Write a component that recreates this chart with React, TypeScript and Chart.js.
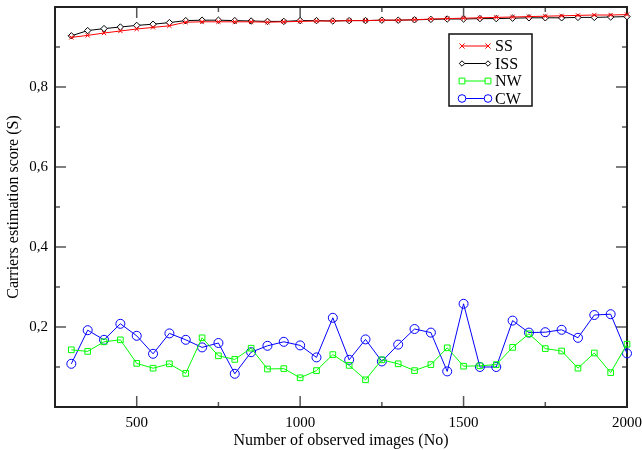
import { useEffect, useRef } from 'react';
import { Chart, registerables } from 'chart.js';

Chart.register(...registerables);

const xValues = [300, 350, 400, 450, 500, 550, 600, 650, 700, 750, 800, 850, 900, 950, 1000, 1050, 1100, 1150, 1200, 1250, 1300, 1350, 1400, 1450, 1500, 1550, 1600, 1650, 1700, 1750, 1800, 1850, 1900, 1950, 2000];

const ssValues = [0.924, 0.929, 0.935, 0.940, 0.945, 0.949, 0.953, 0.962, 0.963, 0.963, 0.963, 0.963, 0.962, 0.963, 0.964, 0.965, 0.965, 0.966, 0.966, 0.967, 0.967, 0.968, 0.970, 0.971, 0.972, 0.973, 0.974, 0.975, 0.976, 0.977, 0.978, 0.979, 0.980, 0.980, 0.981];

const issValues = [0.928, 0.941, 0.946, 0.950, 0.954, 0.957, 0.961, 0.966, 0.967, 0.967, 0.966, 0.965, 0.964, 0.964, 0.966, 0.966, 0.965, 0.966, 0.966, 0.967, 0.967, 0.968, 0.969, 0.970, 0.970, 0.971, 0.971, 0.972, 0.973, 0.973, 0.973, 0.974, 0.974, 0.975, 0.976];

const nwValues = [0.143, 0.139, 0.163, 0.168, 0.109, 0.097, 0.108, 0.084, 0.173, 0.128, 0.119, 0.147, 0.095, 0.096, 0.073, 0.091, 0.131, 0.104, 0.068, 0.118, 0.108, 0.091, 0.106, 0.148, 0.102, 0.103, 0.106, 0.149, 0.183, 0.146, 0.140, 0.097, 0.135, 0.086, 0.157];

const cwValues = [0.108, 0.192, 0.168, 0.208, 0.178, 0.133, 0.184, 0.168, 0.149, 0.160, 0.083, 0.137, 0.153, 0.163, 0.154, 0.124, 0.223, 0.118, 0.169, 0.114, 0.156, 0.195, 0.186, 0.089, 0.258, 0.100, 0.100, 0.216, 0.186, 0.187, 0.193, 0.173, 0.230, 0.232, 0.134];

const seriesNames = ['SS', 'ISS', 'NW', 'CW'];
const xMajorTicks = [500, 1000, 1500, 2000];
const xMinorTicks = [250, 750, 1250, 1750];
const yMajorTicks = [0.2, 0.4, 0.6, 0.8, 1.0];
const yMinorTicks = [0.1, 0.3, 0.5, 0.7, 0.9];
const yTickLabels = ['0,2', '0,4', '0,6', '0,8'];
const xTitle = 'Number of observed images (No)';
const yTitle = 'Carriers estimation score (S)';

const FONT = "'Liberation Serif', 'Times New Roman', serif";

const colors = ['#ff0000', '#000000', '#00ff00', '#0000ff'];
const markers = ['crossRot', 'rectRot', 'rect', 'circle'];
const radii = [3, 3.2, 4, 4.5];

function drawMarker(ctx: CanvasRenderingContext2D, style: string, x: number, y: number, r: number, color: string) {
  ctx.save();
  ctx.strokeStyle = color;
  ctx.fillStyle = '#ffffff';
  ctx.lineWidth = 1;
  ctx.beginPath();
  if (style === 'crossRot') {
    ctx.moveTo(x - r, y - r); ctx.lineTo(x + r, y + r);
    ctx.moveTo(x - r, y + r); ctx.lineTo(x + r, y - r);
    ctx.stroke();
  } else if (style === 'rectRot') {
    ctx.moveTo(x, y - r); ctx.lineTo(x + r, y); ctx.lineTo(x, y + r); ctx.lineTo(x - r, y); ctx.closePath();
    ctx.fill(); ctx.stroke();
  } else if (style === 'rect') {
    const s = r * 0.85;
    ctx.rect(x - s, y - s, 2 * s, 2 * s);
    ctx.fill(); ctx.stroke();
  } else {
    ctx.arc(x, y, r, 0, Math.PI * 2);
    ctx.fill(); ctx.stroke();
  }
  ctx.restore();
}

const framePlugin = {
  id: 'frame',
  beforeDatasetsDraw(chart: any) {
    const { ctx, chartArea: a, scales } = chart;
    const xs = scales.x, ys = scales.y;
    ctx.save();
    ctx.strokeStyle = '#555555';
    ctx.lineWidth = 1.5;
    const tick = (x1: number, y1: number, x2: number, y2: number) => {
      ctx.beginPath(); ctx.moveTo(x1, y1); ctx.lineTo(x2, y2); ctx.stroke();
    };
    xMajorTicks.forEach(v => {
      const p = xs.getPixelForValue(v);
      tick(p, a.bottom, p, a.bottom - 11);
      tick(p, a.top, p, a.top + 11);
    });
    xMinorTicks.forEach(v => {
      const p = xs.getPixelForValue(v);
      tick(p, a.bottom, p, a.bottom - 5);
      tick(p, a.top, p, a.top + 5);
    });
    yMajorTicks.forEach(v => {
      const p = ys.getPixelForValue(v);
      tick(a.left, p, a.left + 11, p);
      tick(a.right, p, a.right - 11, p);
    });
    yMinorTicks.forEach(v => {
      const p = ys.getPixelForValue(v);
      tick(a.left, p, a.left + 5, p);
      tick(a.right, p, a.right - 5, p);
    });
    ctx.strokeStyle = '#222222';
    ctx.lineWidth = 2;
    ctx.strokeRect(a.left, a.top, a.right - a.left, a.bottom - a.top);
    ctx.restore();
  },
};

const legendPlugin = {
  id: 'customLegend',
  afterDraw(chart: any) {
    const { ctx } = chart;
    const bx = 449, by = 34, bw = 83, bh = 72;
    ctx.save();
    ctx.fillStyle = '#ffffff';
    ctx.fillRect(bx, by, bw, bh);
    ctx.strokeStyle = '#111111';
    ctx.lineWidth = 1.5;
    ctx.strokeRect(bx, by, bw, bh);
    ctx.font = `16px ${FONT}`;
    ctx.textBaseline = 'middle';
    ctx.textAlign = 'left';
    seriesNames.forEach((name, i) => {
      const y = 46 + i * 17.5;
      ctx.strokeStyle = colors[i];
      ctx.lineWidth = 1;
      ctx.beginPath(); ctx.moveTo(462, y); ctx.lineTo(488, y); ctx.stroke();
      drawMarker(ctx, markers[i], 462, y, radii[i] * 0.85, colors[i]);
      drawMarker(ctx, markers[i], 488, y, radii[i] * 0.85, colors[i]);
      ctx.fillStyle = '#000000';
      ctx.fillText(name, 495, y + 1);
    });
    ctx.restore();
  },
};

export default function App() {
  const canvasRef = useRef<HTMLCanvasElement | null>(null);

  useEffect(() => {
    if (!canvasRef.current) return;
    const series = [ssValues, issValues, nwValues, cwValues];
    const datasets = series.map((vals, i) => ({
      label: seriesNames[i],
      data: vals.map((v, j) => ({ x: xValues[j], y: v })),
      borderColor: colors[i],
      backgroundColor: i === 0 ? colors[i] : 'rgba(255,255,255,0)',
      borderWidth: 1,
      pointStyle: markers[i] as any,
      pointRadius: radii[i],
      pointBorderColor: colors[i],
      pointBackgroundColor: i === 1 ? '#ffffff' : 'rgba(255,255,255,0)',
      pointBorderWidth: 1,
      tension: 0,
      clip: false as any,
    }));
    const chart = new Chart(canvasRef.current, {
      type: 'line',
      data: { datasets: datasets as any },
      options: {
        animation: false,
        responsive: false,
        maintainAspectRatio: false,
        layout: { padding: { top: 7, right: 15, left: 0, bottom: 0 } },
        plugins: { legend: { display: false }, tooltip: { enabled: false } },
        scales: {
          x: {
            type: 'linear',
            min: 250,
            max: 2000,
            grid: { display: false, drawTicks: false },
            border: { display: false },
            afterBuildTicks: (s: any) => { s.ticks = xMajorTicks.map(v => ({ value: v })); },
            afterFit: (s: any) => { s.height = 43; s.paddingLeft = 0; s.paddingRight = 0; },
            ticks: {
              padding: 7,
              color: '#000000',
              font: { family: FONT, size: 15 },
              maxRotation: 0,
              callback: (v: any) => String(v),
            },
            title: {
              display: true,
              text: xTitle,
              color: '#000000',
              font: { family: FONT, size: 16 },
              padding: { top: 0, bottom: 0 },
            },
          },
          y: {
            type: 'linear',
            min: 0,
            max: 1,
            grid: { display: false, drawTicks: false },
            border: { display: false },
            afterBuildTicks: (s: any) => { s.ticks = yMajorTicks.slice(0, 4).map(v => ({ value: v })); },
            afterFit: (s: any) => { s.width = 55; s.paddingTop = 0; s.paddingBottom = 0; },
            ticks: {
              padding: 7,
              color: '#000000',
              font: { family: FONT, size: 15 },
              callback: (_v: any, i: number) => yTickLabels[i],
            },
            title: {
              display: true,
              text: yTitle,
              color: '#000000',
              font: { family: FONT, size: 16 },
              padding: { top: 4, bottom: 0 },
            },
          },
        },
      },
      plugins: [framePlugin, legendPlugin],
    });
    return () => chart.destroy();
  }, []);

  return (
    <div style={{ position: 'fixed', left: 0, top: 0, width: 642, height: 450, background: '#ffffff' }}>
      <canvas ref={canvasRef} width={642} height={450} style={{ width: 642, height: 450, display: 'block' }} />
    </div>
  );
}
